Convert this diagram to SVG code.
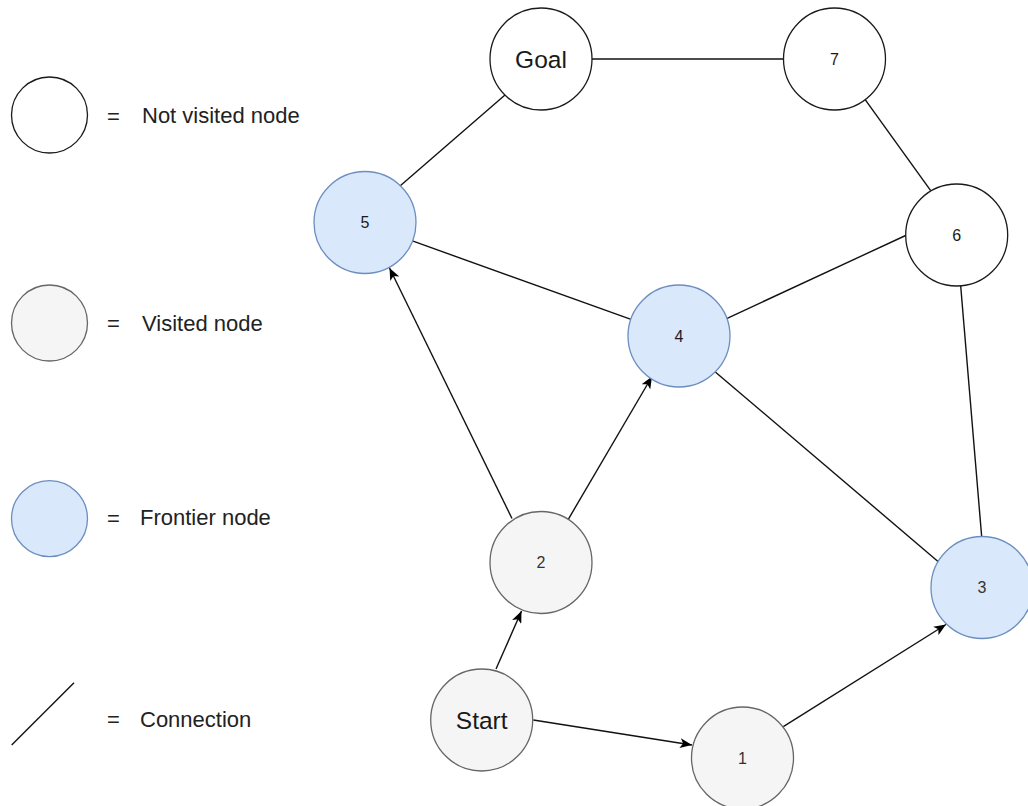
<svg xmlns="http://www.w3.org/2000/svg" width="1028" height="806" viewBox="0 0 1028 806">
  <style>
    .nv { fill: #ffffff; stroke: #1a1a1a; stroke-width: 1.3; }
    .vi { fill: #f5f5f5; stroke: #666666; stroke-width: 1.3; }
    .fr { fill: #dae8fc; stroke: #6c8ebf; stroke-width: 1.3; }
    .edge { stroke: #111111; stroke-width: 1.4; fill: none; }
    .arr { marker-end: url(#arrow); }
    .big { font-family: "Liberation Sans", Arial, sans-serif; font-size: 24.5px; text-anchor: middle; }
    .num { font-family: "Liberation Sans", Arial, sans-serif; font-size: 16px; text-anchor: middle; }
    .leg { font-family: "Liberation Sans", Arial, sans-serif; font-size: 22px; fill: #222222; }
    .dark { fill: #1a1a1a; }
    .grey { fill: #333333; }
  </style>
  <defs>
    <marker id="arrow" viewBox="0 0 12 10" refX="12" refY="5" markerWidth="12" markerHeight="10" markerUnits="userSpaceOnUse" orient="auto">
      <path d="M0,0 L12,5 L0,10 L3,5 Z" fill="#000000"/>
    </marker>
  </defs>
  <rect width="1028" height="806" fill="#ffffff"/>

  <g id="legend">
    <g id="legend-not-visited">
      <circle class="nv" cx="49.5" cy="115" r="38"/>
      <text class="leg" x="107" y="124">=</text>
      <text class="leg" x="142" y="123">Not visited node</text>
    </g>
    <g id="legend-visited">
      <circle class="vi" cx="49.5" cy="323" r="38"/>
      <text class="leg" x="107" y="331">=</text>
      <text class="leg" x="142" y="331">Visited node</text>
    </g>
    <g id="legend-frontier">
      <circle class="fr" cx="49.5" cy="518.7" r="38"/>
      <text class="leg" x="107" y="526">=</text>
      <text class="leg" x="140" y="525">Frontier node</text>
    </g>
    <g id="legend-connection">
      <line class="edge" x1="11.7" y1="745" x2="74" y2="682.7"/>
      <text class="leg" x="107" y="727">=</text>
      <text class="leg" x="140" y="727">Connection</text>
    </g>
  </g>

  <g id="connectors">
    <line class="edge" x1="591.7" y1="59" x2="783.3" y2="59"/>
    <line class="edge" x1="505" y1="95" x2="400" y2="186"/>
    <line class="edge" x1="865" y1="99.3" x2="930.7" y2="190.7"/>
    <line class="edge" x1="411.7" y1="240.7" x2="631" y2="319.3"/>
    <line class="edge" x1="725" y1="319.3" x2="906.7" y2="235"/>
    <line class="edge" x1="715" y1="371.7" x2="938.3" y2="561.7"/>
    <line class="edge" x1="960.7" y1="286" x2="981.7" y2="537"/>
    <line class="edge arr" x1="512" y1="518.5" x2="389.5" y2="268"/>
    <line class="edge arr" x1="568.3" y1="519.3" x2="652" y2="376.5"/>
    <line class="edge arr" x1="496" y1="669" x2="521.5" y2="611"/>
    <line class="edge arr" x1="533.3" y1="720" x2="692" y2="745"/>
    <line class="edge arr" x1="783.3" y1="726.7" x2="946" y2="624.5"/>
  </g>

  <g id="node-goal">
    <circle class="nv" cx="541" cy="59" r="51"/>
    <text class="big dark" x="541" y="68.3">Goal</text>
  </g>
  <g id="node-7">
    <circle class="nv" cx="834.5" cy="59" r="51"/>
    <text class="num dark" x="834.5" y="65">7</text>
  </g>
  <g id="node-5">
    <circle class="fr" cx="365" cy="222.5" r="51"/>
    <text class="num dark" x="365" y="228.3">5</text>
  </g>
  <g id="node-6">
    <circle class="nv" cx="956.7" cy="235" r="51"/>
    <text class="num dark" x="956.7" y="240.8">6</text>
  </g>
  <g id="node-4">
    <circle class="fr" cx="679" cy="336" r="51"/>
    <text class="num dark" x="679" y="341.7">4</text>
  </g>
  <g id="node-2">
    <circle class="vi" cx="541" cy="562.5" r="51"/>
    <text class="num grey" x="541" y="568.3">2</text>
  </g>
  <g id="node-3">
    <circle class="fr" cx="982" cy="587.5" r="51"/>
    <text class="num grey" x="982" y="593.3">3</text>
  </g>
  <g id="node-start">
    <circle class="vi" cx="481.7" cy="720" r="51"/>
    <text class="big dark" x="481.7" y="729">Start</text>
  </g>
  <g id="node-1">
    <circle class="vi" cx="742.5" cy="758" r="51"/>
    <text class="num grey" x="742.5" y="763.8">1</text>
  </g>
</svg>
